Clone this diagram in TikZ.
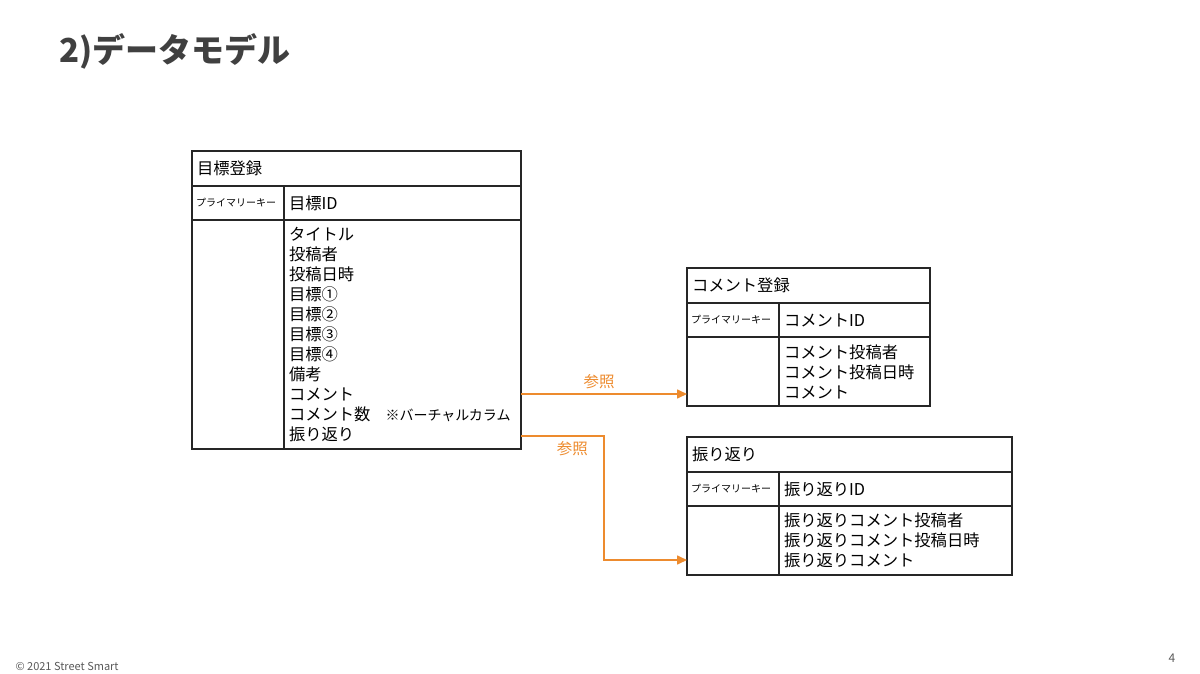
\documentclass[tikz,border=0pt]{standalone}
\usepackage{fontspec}
\setmainfont{Noto Sans CJK JP}
\usetikzlibrary{positioning,arrows.meta}
\definecolor{refcol}{HTML}{ED8B2E}
\definecolor{titlecol}{HTML}{404040}
\definecolor{footcol}{HTML}{595959}

\begin{document}
\begin{tikzpicture}[x=1pt, y=-1pt, node distance=0pt,
		cell/.style={draw=black!85, line width=1.3pt, outer sep=0pt, inner xsep=5pt, inner ysep=0pt, align=left, font=\fontsize{16.3}{20}\selectfont},
		keycell/.style={cell, inner xsep=4pt, text width=84pt, minimum height=34pt, font=\fontsize{10}{12}\selectfont},
		refline/.style={draw=refcol, line width=1.6pt, -{Triangle[length=10pt,width=9pt]}},
		reflabel/.style={text=refcol, font=\fontsize{15.5}{18}\selectfont}]
		\useasboundingbox (0,0) rectangle (1200,674);

		% Title and footer
		\node[anchor=west, text=titlecol, font=\fontsize{33}{36}\selectfont\bfseries] (title) at (56,51) {2)データモデル};
		\node[anchor=west, text=footcol, font=\fontsize{11}{13}\selectfont] (copy) at (12,666) {© 2021 Street Smart};
		\node[text=footcol, font=\fontsize{12}{14}\selectfont] (pnum) at (1172,658) {4};

		% Table: goal registration
		\node[cell, anchor=north west, text width=319pt, minimum height=35pt] (aT) at (192,151) {目標登録};
		\node[keycell, below right=0pt and 0pt of aT.south west] (aK) {プライマリーキー};
		\node[cell, right=of aK, text width=227pt, minimum height=34pt] (aI) {目標ID};
		\node[keycell, below right=0pt and 0pt of aK.south west, minimum height=229pt] (aL) {};
		\node[cell, right=of aL, text width=227pt, minimum height=229pt] (aB) {タイトル\\投稿者\\投稿日時\\目標①\\目標②\\目標③\\目標④\\備考\\コメント\\コメント数\hspace{15pt}{\fontsize{14}{20}\selectfont ※バーチャルカラム}\\振り返り};

		% Table: comment registration
		\node[cell, anchor=north west, text width=233pt, minimum height=35pt] (bT) at (687,268) {コメント登録};
		\node[keycell, below right=0pt and 0pt of bT.south west] (bK) {プライマリーキー};
		\node[cell, right=of bK, text width=141pt, minimum height=34pt] (bI) {コメントID};
		\node[keycell, below right=0pt and 0pt of bK.south west, minimum height=69pt] (bL) {};
		\node[cell, right=of bL, text width=141pt, minimum height=69pt] (bB) {コメント投稿者\\コメント投稿日時\\コメント};

		% Table: reflection
		\node[cell, anchor=north west, text width=315pt, minimum height=35pt] (cT) at (687,437) {振り返り};
		\node[keycell, below right=0pt and 0pt of cT.south west] (cK) {プライマリーキー};
		\node[cell, right=of cK, text width=223pt, minimum height=34pt] (cI) {振り返りID};
		\node[keycell, below right=0pt and 0pt of cK.south west, minimum height=69pt] (cL) {};
		\node[cell, right=of cL, text width=223pt, minimum height=69pt] (cB) {振り返りコメント投稿者\\振り返りコメント投稿日時\\振り返りコメント};

		% References
		\coordinate (s1) at ([yshift=55pt]aB.south east);
		\coordinate (s2) at ([yshift=13pt]aB.south east);
		\coordinate (e2) at ([yshift=15pt]cL.south west);
		\draw[refline] (s1) -- node[reflabel, above=1pt, pos=.47] (r1) {参照} (s1 -| bL.west);
		\draw[refline] (s2) -| node[reflabel, below=1pt, pos=.31] (r2) {参照} ([xshift=-83pt]e2) -- (e2);
	\end{tikzpicture}
\end{document}
